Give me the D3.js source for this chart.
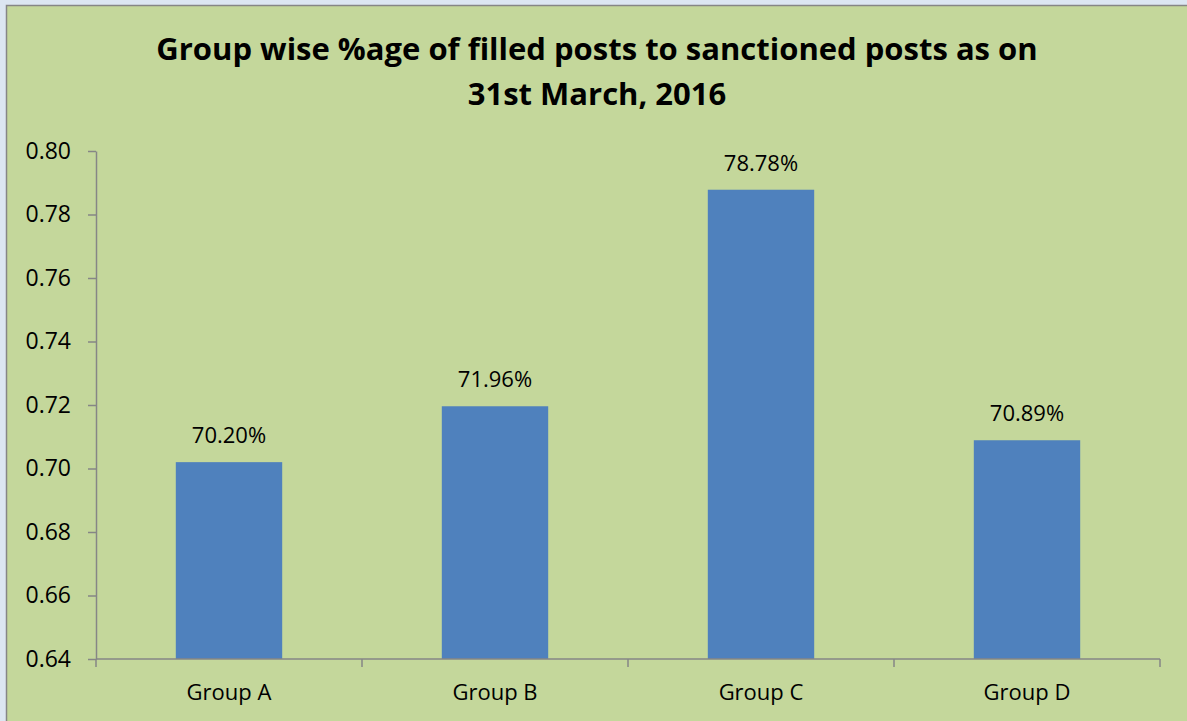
<!DOCTYPE html>
<html>
<head>
  <meta charset="utf-8">
  <title>filled posts</title>
  <style>
    body {
      margin: 0;
      overflow: hidden;
      background-color: #dce6f2;
    }
    .tick text {
      font-family: "Open Sans", sans-serif;
      fill: #000;
    }
    .barlabel {
      font-family: "Open Sans", sans-serif;
      font-size: 22px;
      text-anchor: middle;
      fill: #000;
    }
    .title {
      font-family: "Open Sans", sans-serif;
      font-weight: bold;
      font-size: 31px;
      text-anchor: middle;
      fill: #000;
    }
  </style>
</head>
<body>
  <svg id="chart"></svg>
  <script src="https://cdn.jsdelivr.net/npm/d3@7"></script>
  <script>
  // data
  var groups = ["Group A", "Group B", "Group C", "Group D"];
  var shares = [0.7020, 0.7196, 0.7878, 0.7089];
  var yTicks = [0.64, 0.66, 0.68, 0.70, 0.72, 0.74, 0.76, 0.78, 0.80];
  var titleLines = ["Group wise %age of filled posts to sanctioned posts as on",
                    "31st March, 2016"];

  var W = 1187, H = 721;
  var svg = d3.select("#chart").attr("width", W).attr("height", H);

  // chart area box with gray border on top/left
  svg.append("rect")
      .attr("x", 6.5).attr("y", 5.5)
      .attr("width", W).attr("height", H)
      .attr("fill", "#c4d79b")
      .attr("stroke", "#868686")
      .attr("stroke-width", 1.5);

  svg.selectAll("text.title")
      .data(titleLines)
    .enter().append("text")
      .attr("class", "title")
      .attr("x", 597)
      .attr("y", function(d, i) { return 60 + i*45; })
      .text(function(d) { return d; });

  var x = d3.scaleBand().domain(groups).range([96, 1160]).paddingInner(0.6).paddingOuter(0.3);
  var y = d3.scaleLinear().domain([0.64, 0.80]).range([659, 151]);

  svg.selectAll("rect.bar")
      .data(groups)
    .enter().append("rect")
      .attr("class", "bar")
      .attr("x", function(d) { return x(d); })
      .attr("width", x.bandwidth())
      .attr("y", function(d, i) { return y(shares[i]); })
      .attr("height", function(d, i) { return y(0.64) - y(shares[i]); })
      .attr("fill", "#4f81bd");

  svg.selectAll("text.barlabel")
      .data(groups)
    .enter().append("text")
      .attr("class", "barlabel")
      .attr("x", function(d) { return x(d) + x.bandwidth()/2; })
      .attr("y", function(d, i) { return y(shares[i]) - 19; })
      .text(function(d, i) { return (shares[i]*100).toFixed(2) + "%"; });

  // y axis
  var yAxis = svg.append("g")
      .attr("transform", "translate(96,0)")
      .call(d3.axisLeft(y).tickValues(yTicks).tickFormat(d3.format(".2f")).tickSize(8).tickSizeOuter(0).tickPadding(17));
  yAxis.selectAll("text").style("font-size", "23px");

  // x axis: ticks at category boundaries
  var step = (1160 - 96) / groups.length;
  var bounds = d3.range(groups.length + 1).map(function(i) { return 96 + i*step; });
  var xg = svg.append("g");
  xg.append("line")
      .attr("x1", 96).attr("x2", 1160).attr("y1", 659).attr("y2", 659)
      .attr("stroke", "#868686").attr("stroke-width", 1.5);
  xg.selectAll("line.xt")
      .data(bounds)
    .enter().append("line")
      .attr("class", "xt")
      .attr("x1", function(d) { return d; }).attr("x2", function(d) { return d; })
      .attr("y1", 659).attr("y2", 667)
      .attr("stroke", "#868686").attr("stroke-width", 1.5);
  xg.selectAll("text")
      .data(groups)
    .enter().append("text")
      .attr("x", function(d) { return x(d) + x.bandwidth()/2; })
      .attr("y", 700)
      .attr("text-anchor", "middle")
      .style("font-family", "'Open Sans', sans-serif")
      .style("font-size", "22px")
      .text(function(d) { return d; });

  yAxis.select(".domain").attr("stroke", "#868686").attr("stroke-width", 1.5);
  yAxis.selectAll(".tick line").attr("stroke", "#868686").attr("stroke-width", 1.5);
  </script>
</body>
</html>
